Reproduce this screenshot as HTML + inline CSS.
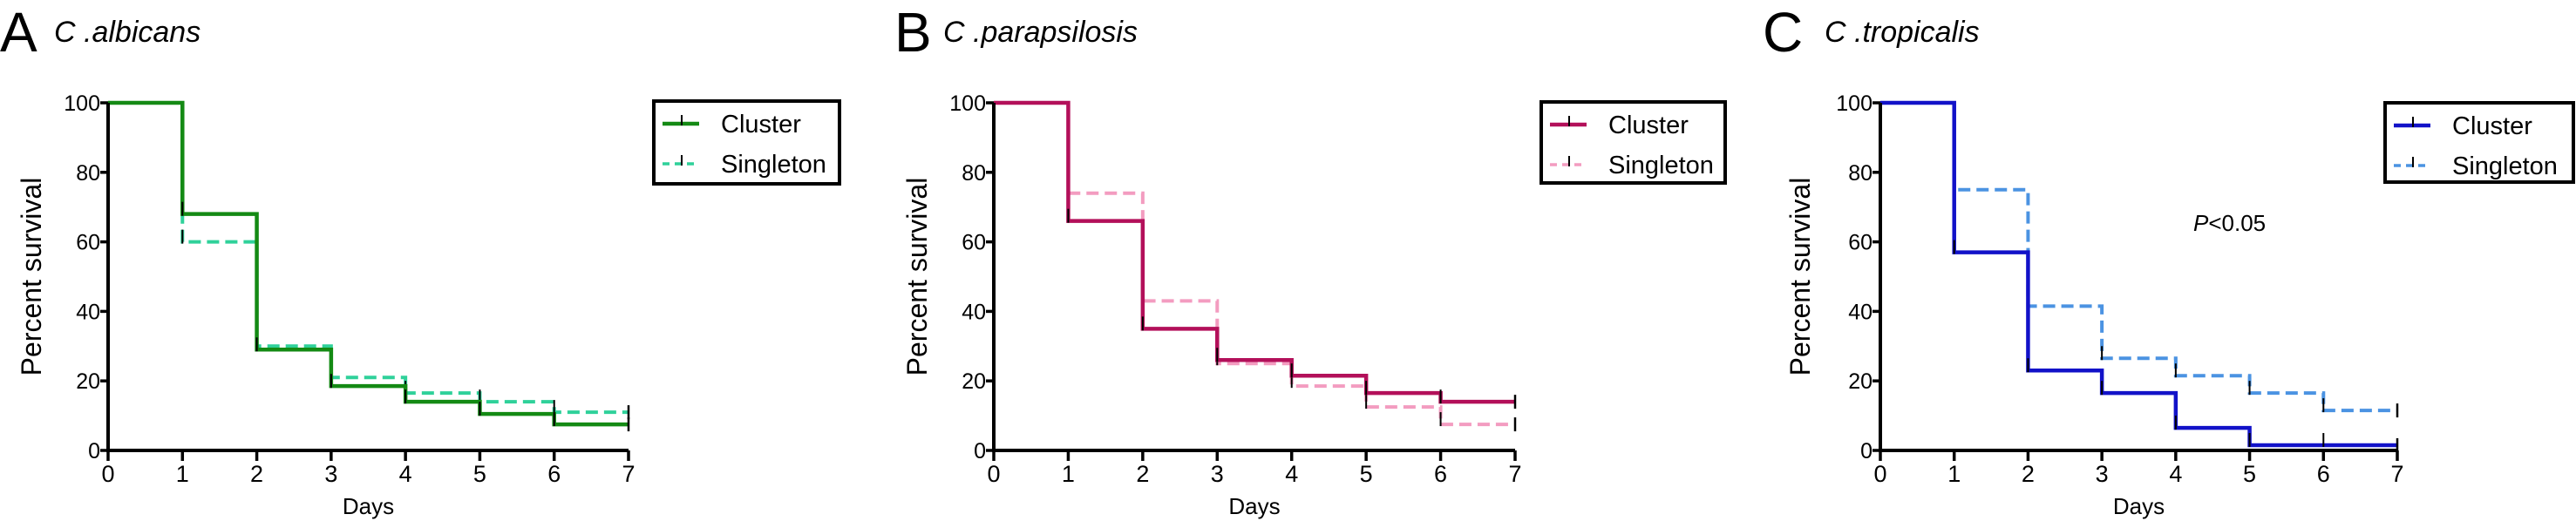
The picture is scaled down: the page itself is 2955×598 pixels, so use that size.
<!DOCTYPE html>
<html><head><meta charset="utf-8"><style>
html,body{margin:0;padding:0;background:#fff;}
svg{display:block;font-family:"Liberation Sans",sans-serif;}
</style></head><body>
<svg id="fig" width="2955" height="598" viewBox="0 0 2955 598" xmlns="http://www.w3.org/2000/svg"></svg>
<script>
const days = [0,1,2,3,4,5,6,7];
const yTicks = [0,20,40,60,80,100];
const xTicks = [0,1,2,3,4,5,6,7];
const albicansCluster = [100,68,29,18.5,14,10.5,7.5];
const albicansSingleton = [100,60,30,21,16.5,14,11];
const parapCluster = [100,66,35,26,21.5,16.5,14];
const parapSingleton = [100,74,43,25,18.5,12.5,7.5];
const tropCluster = [100,57,23,16.5,6.5,1.5,1.5];
const tropSingleton = [100,75,41.5,26.5,21.5,16.5,11.5];
const seriesNames = ["Cluster","Singleton"];

const panels = [
 {id:"a",letter:"A",species:"C .albicans",lx:0,sx:62,x0:124,x1:721,ylabX:36,leg:[750,116,213,95],c:"#148a14",s:"#2fd19a",data:[albicansCluster,albicansSingleton]},
 {id:"b",letter:"B",species:"C .parapsilosis",lx:1026,sx:1082,x0:1140,x1:1738,ylabX:1052,leg:[1768,117,211,93],c:"#b3105a",s:"#f39cc0",data:[parapCluster,parapSingleton]},
 {id:"c",letter:"C",species:"C .tropicalis",lx:2022,sx:2093,x0:2157,x1:2750,ylabX:2065,leg:[2736,118,216,91],c:"#1212c8",s:"#4b93e2",data:[tropCluster,tropSingleton],p:true}
];
const NS="http://www.w3.org/2000/svg";
const svg=document.getElementById('fig');
function mk(tag,attrs,parent,text){const e=document.createElementNS(NS,tag);for(const k in attrs)e.setAttribute(k,attrs[k]);if(text!==undefined)e.textContent=text;(parent||svg).appendChild(e);return e;}
const Y0=517,Y1=118;
panels.forEach(p=>{
  const g=mk('g',{});
  
  
  const X=v=>p.x0+(p.x1-p.x0)*v/7;
  const Y=v=>Y0-(Y0-Y1)*v/100;
  const L=mk('text',{x:p.lx,y:59,'font-size':64,fill:'#000'},g,p.letter);
  
  
  const T=mk('text',{x:p.sx,y:48,'font-size':34,'font-style':'italic',fill:'#000'},g,p.species);
  
  
  [1,0].forEach(si=>{
    const vals=p.data[si];
    let d='M'+X(0)+' '+Y(vals[0]);
    for(let i=1;i<vals.length;i++){d+=' H'+X(days[i])+' V'+Y(vals[i]);}
    d+=' H'+X(7);
    const path=mk('path',{d:d,fill:'none',stroke:si?p.s:p.c,'stroke-width':si?4:4.5,'stroke-dasharray':si?'14,7':'none'},g);
    
    
    for(let i=1;i<vals.length;i++){
      const t=mk('line',{x1:X(days[i]),x2:X(days[i]),y1:Y(vals[i])-14,y2:Y(vals[i])+2,stroke:'#000','stroke-width':2},g);
      
      
    }
    const e=mk('line',{x1:X(7),x2:X(7),y1:Y(vals[vals.length-1])-8,y2:Y(vals[vals.length-1])+8,stroke:'#000','stroke-width':2.5},g);
    
    
  });
  const ax=mk('path',{d:`M${p.x0} ${Y1} V${Y0} H${p.x1}`,fill:'none',stroke:'#000','stroke-width':4},g);
  
  
  yTicks.forEach(v=>{
    mk('line',{x1:p.x0-9,x2:p.x0,y1:Y(v),y2:Y(v),stroke:'#000','stroke-width':3.5},g);
    const t=mk('text',{x:p.x0-9,y:Y(v)+9,'font-size':25,'text-anchor':'end',fill:'#000'},g,String(v));
    
    
  });
  xTicks.forEach(v=>{
    mk('line',{x1:X(v),x2:X(v),y1:Y0,y2:Y0+12,stroke:'#000','stroke-width':3.5},g);
    const t=mk('text',{x:X(v),y:Y0+36,'font-size':27,'text-anchor':'middle',fill:'#000'},g,String(v));
    
    
  });
  const xl=mk('text',{x:(p.x0+p.x1)/2,y:590,'font-size':26,'text-anchor':'middle',fill:'#000'},g,'Days');
  
  
  const yl=mk('text',{x:p.ylabX+11,y:(Y0+Y1)/2,'font-size':32,'text-anchor':'middle',fill:'#000',transform:`rotate(-90 ${p.ylabX+11} ${(Y0+Y1)/2})`},g,'Percent survival');
  
  
  const [lx,ly,lw,lh]=p.leg;
  const lg=mk('g',{},g);
  
  
  mk('rect',{x:lx,y:ly,width:lw,height:lh,fill:'#fff',stroke:'#000','stroke-width':4},lg);
  seriesNames.forEach((n,i)=>{
    const yy=ly+26+i*46;
    const ln=mk('line',{x1:lx+10,x2:lx+52,y1:yy,y2:yy,stroke:i?p.s:p.c,'stroke-width':i?3.5:4.5,'stroke-dasharray':i?'8,6':'none'},lg);
    
    
    mk('line',{x1:lx+32,x2:lx+32,y1:yy-10,y2:yy+2,stroke:'#000','stroke-width':2},lg);
    const tx=mk('text',{x:lx+77,y:yy+10,'font-size':29,fill:'#000'},lg,n);
    
    
  });
  if(p.p){
    const pt=mk('text',{x:2516,y:265,'font-size':26,fill:'#000'},g);
    
    
    mk('tspan',{'font-style':'italic'},pt,'P');
    mk('tspan',{},pt,'<0.05');
  }
});
</script>
</body></html>
